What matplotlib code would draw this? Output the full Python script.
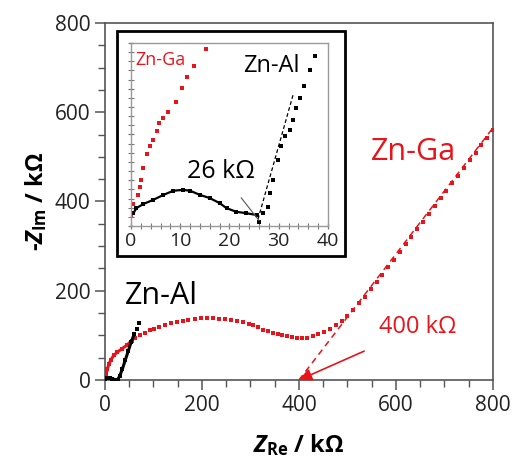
import matplotlib
matplotlib.use("Agg")
import matplotlib.pyplot as plt
from matplotlib.patches import Rectangle
from matplotlib.ticker import MultipleLocator

plt.rcParams['font.family'] = ['Open Sans', 'DejaVu Sans']
plt.rcParams['mathtext.fontset'] = 'custom'
plt.rcParams['mathtext.it'] = 'Open Sans:bold:italic'
plt.rcParams['mathtext.rm'] = 'Open Sans:bold'
plt.rcParams['mathtext.bf'] = 'Open Sans:bold'

RED = "#e8141c"
SPINE = "#555555"

# Nyquist data, kOhm
zn_ga_re = [0, 2, 5, 8, 12, 18, 25, 35, 45, 55,
            62, 72, 82, 92, 102, 112, 124, 136, 148, 160, 172, 185, 198, 210,
            222, 235, 248, 260, 272, 284, 296, 306, 316, 326, 336, 346, 356,
            366, 376, 386, 396, 406, 416, 428, 440, 452, 464, 476, 488, 500,
            512, 524, 536, 548, 560, 572, 584, 596, 608, 620, 632, 644, 656,
            668, 680, 692, 704, 716, 728, 740, 752, 764, 776, 788, 800]
zn_ga_im = [0, 12, 25, 35, 45, 55, 62, 70, 78, 88,
            95, 101, 106, 111, 115, 119, 123, 127, 130, 133, 135, 137, 138, 138,
            138, 137, 136, 134, 132, 129, 126, 123, 118, 113, 109, 106, 103,
            100, 98, 96, 94, 94, 95, 98, 102, 108, 115, 124, 133, 144,
            157, 172, 187, 203, 220, 236, 253, 270, 287, 304, 321, 338, 355,
            372, 390, 407, 424, 441, 458, 475, 492, 509, 526, 543, 560]

zn_al_re = [0, 5, 10, 15, 20, 26, 30, 36, 42, 48, 54, 60, 65, 70]
zn_al_im = [0, 4, 5, 3, 1, 1, 8, 25, 45, 65, 85, 102, 115, 127]

# high-frequency detail of both samples
ins_al_re = [0.5, 1.1, 2.5, 4.5, 6.6, 8.6, 10.6, 12.0, 14.0, 16.0, 18.0, 19.4,
             21.4, 23.4, 25.5, 26.0, 26.8, 27.8, 28.3, 28.9, 29.9, 30.5, 31.2,
             32.2, 32.9, 33.6, 34.3, 35.1, 36.4, 37.3]
ins_al_im = [2.8, 3.9, 4.8, 5.7, 6.8, 7.7, 7.9, 7.7, 6.8, 6.1, 5.0, 3.9,
             3.1, 2.8, 2.4, 0.9, 2.8, 4.2, 7.2, 10.1, 14.5, 17.4, 19.6,
             21.0, 23.2, 25.8, 28.0, 30.7, 34.0, 37.1]
ins_ga_re = [0.1, 0.5, 1.5, 1.8, 2.0, 2.5, 3.2, 3.8, 4.5, 5.2, 5.7, 6.5,
             7.6, 9.1, 10.3, 11.4, 12.8, 15.2]
ins_ga_im = [2.4, 4.8, 6.8, 8.6, 10.1, 12.6, 15.8, 17.5, 18.8, 20.7, 22.5,
             23.5, 24.9, 27.2, 30.1, 32.6, 34.9, 38.7]

# extrapolated lines to the real axis
ga_fit_re = [400, 800]
ga_fit_im = [0, 565]
al_fit_re = [25.8, 33.0]
al_fit_im = [1.5, 29.0]

fig = plt.figure(figsize=(5.21, 4.57), dpi=100)
ax = fig.add_axes([0.2015, 0.1685, 0.7447, 0.7812])

ax.plot(zn_ga_re[:10], zn_ga_im[:10], color=RED, lw=2.2, zorder=3)
ax.plot(zn_ga_re, zn_ga_im, ls="none", marker="s", ms=2.6, color=RED, mew=0, zorder=3)
ax.plot(ga_fit_re, ga_fit_im, ls=(0, (4, 3)), lw=1.1, color=RED, zorder=2)
ax.plot(zn_al_re[:-2], zn_al_im[:-2], color="black", lw=2.2, zorder=4)
ax.plot(zn_al_re, zn_al_im, ls="none", marker="s", ms=2.6, color="black", mew=0, zorder=4)

ax.annotate("400 kΩ", xy=(ga_fit_re[0], 0), xytext=(645, 118),
            color=RED, fontsize=17, ha="center", va="center",
            arrowprops=dict(arrowstyle="-|>,head_length=0.45,head_width=0.22",
                            color=RED, lw=1.2, shrinkA=16, shrinkB=0))
ax.text(637, 511, "Zn-Ga", color=RED, fontsize=22, ha="center", va="center")
ax.text(116, 189, "Zn-Al", color="black", fontsize=22, ha="center", va="center")

ax.set_xlim(0, 800)
ax.set_ylim(0, 800)
ax.xaxis.set_major_locator(MultipleLocator(200))
ax.xaxis.set_minor_locator(MultipleLocator(50))
ax.yaxis.set_major_locator(MultipleLocator(200))
ax.yaxis.set_minor_locator(MultipleLocator(50))
ax.tick_params(which="both", direction="out", color=SPINE, labelsize=15,
               labelcolor="#222222")
ax.tick_params(which="major", length=7, width=1.1)
ax.tick_params(which="minor", length=5, width=1.0)
for s in ax.spines.values():
    s.set_color(SPINE)
    s.set_linewidth(1.2)

ax.set_xlabel(r"$Z_{\rm Re}$ / kΩ", fontsize=17, fontweight="bold", labelpad=12)
ax.set_ylabel(r"-$Z_{\rm Im}$ / kΩ", fontsize=17, fontweight="bold", labelpad=4)

# inset frame and axes
frame = Rectangle((0.2246, 0.4398), 0.4376, 0.4923, transform=fig.transFigure,
                  facecolor="white", edgecolor="black", lw=2.0, zorder=5)
fig.patches.append(frame)

ins = fig.add_axes([0.2514, 0.5055, 0.3781, 0.4004])
ins.set_zorder(6)
ins.plot(ins_ga_re, ins_ga_im, ls="none", marker="s", ms=2.2, color=RED, mew=0)
ins.plot(ins_al_re[:15], ins_al_im[:15], color="black", lw=1.6)
ins.plot(ins_al_re, ins_al_im, ls="none", marker="s", ms=2.2, color="black", mew=0)
ins.plot(al_fit_re, al_fit_im, ls=(0, (3, 2)), lw=0.9, color="black")
ins.annotate("26 kΩ", xy=(26.0, 1.2), xytext=(18.2, 11.9), fontsize=18,
             ha="center", va="center",
             arrowprops=dict(arrowstyle="-", color="#555555", lw=0.8,
                             shrinkA=10, shrinkB=0))
ins.text(0.9, 36.2, "Zn-Ga", color=RED, fontsize=13, ha="left", va="center")
ins.text(28.6, 34.9, "Zn-Al", color="black", fontsize=17, ha="center", va="center")

ins.set_xlim(0, 40)
ins.set_ylim(0, 40)
ins.xaxis.set_major_locator(MultipleLocator(10))
ins.xaxis.set_minor_locator(MultipleLocator(2))
ins.yaxis.set_major_locator(MultipleLocator(10))
ins.yaxis.set_minor_locator(MultipleLocator(2))
ins.tick_params(which="both", direction="inout", color="#777777", labelsize=14,
                labelcolor="#222222", pad=2)
ins.tick_params(which="major", length=5, width=0.9)
ins.tick_params(which="minor", length=4, width=0.8)
ins.tick_params(axis="y", labelleft=False)
for s in ins.spines.values():
    s.set_color("#999999")
    s.set_linewidth(1.0)

fig.savefig("out.png", dpi=100)
